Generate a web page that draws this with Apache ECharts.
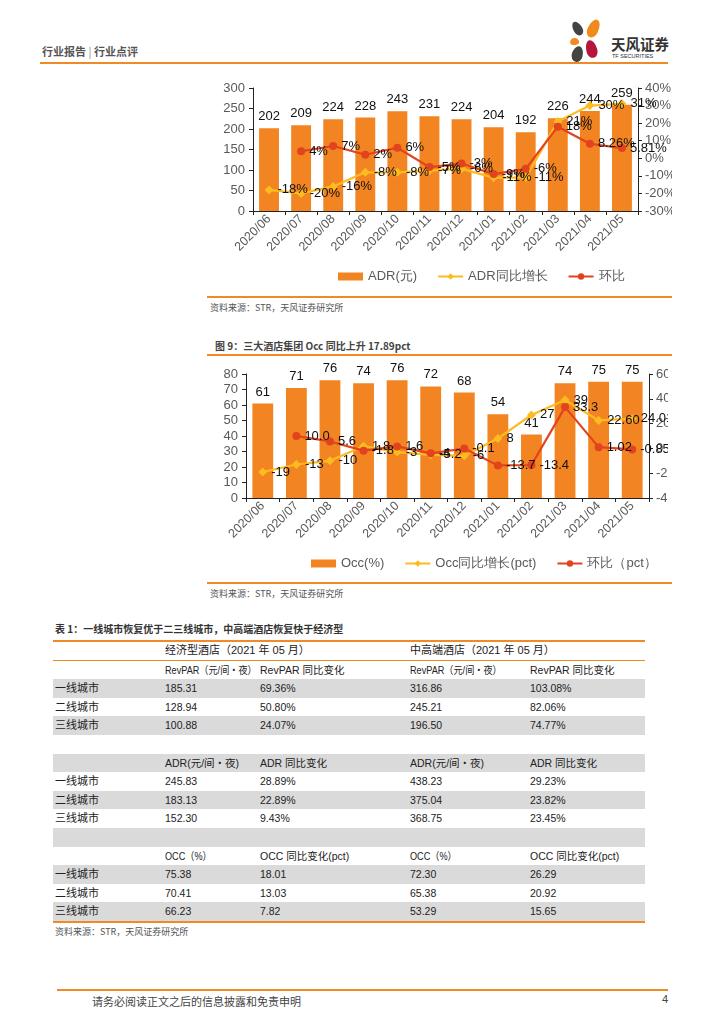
<!DOCTYPE html>
<html><head><meta charset="utf-8">
<script src="https://cdn.jsdelivr.net/npm/echarts@6/dist/echarts.min.js"></script>
<style>
body{margin:0;width:724px;height:1024px;background:#fff;position:relative;overflow:hidden;font-family:"Noto Sans CJK SC","Liberation Sans",sans-serif;color:#333}
.abs{position:absolute}
.clip{position:absolute;overflow:hidden}
.hl{position:absolute;height:1.5px;background:#F08A24}
.src{position:absolute;font-size:9px;color:#555;white-space:nowrap}
.petal{position:absolute;border-radius:50% 50% 50% 50%/60% 60% 40% 40%}
table{border-collapse:collapse;table-layout:fixed;font-family:"Liberation Sans","Noto Sans CJK SC",sans-serif;font-size:11px;color:#222}
td{height:18.6px;padding:0 0 0 2px;white-space:nowrap;overflow:visible;line-height:18.6px}
tr.g td{background:#DADADA}
.narrow{display:inline-block;transform:scaleX(0.87);transform-origin:left center}
</style></head>
<body>
<!-- header -->
<div class="abs" style="left:42px;top:43px;font-size:11px;font-weight:bold;color:#555">行业报告 <span style="font-weight:normal;color:#888">|</span> 行业点评</div>
<div class="hl" style="left:40px;top:62px;width:628px"></div>
<div class="petal" style="left:573px;top:21px;width:9px;height:15px;background:#444;transform:rotate(-30deg)"></div>
<div class="petal" style="left:588px;top:19px;width:11px;height:19px;background:#F08A1C;transform:rotate(25deg)"></div>
<div class="petal" style="left:570px;top:38px;width:9px;height:7px;background:#F08A1C;transform:rotate(-10deg)"></div>
<div class="petal" style="left:586px;top:40px;width:11px;height:18px;background:#B5173C;transform:rotate(-15deg)"></div>
<div class="petal" style="left:572px;top:46px;width:11px;height:16px;background:#444;transform:rotate(15deg)"></div>
<div class="abs" style="left:611px;top:33px;font-size:14.5px;font-weight:bold;color:#333">天风证券</div>
<div class="abs" style="left:612px;top:53px;font-size:5.5px;color:#333;font-family:'Liberation Sans'">TF SECURITIES</div>

<!-- chart 1 -->
<div class="clip" style="left:200px;top:75px;width:472px;height:215px">
  <div id="c1" class="abs" style="left:0;top:0;width:540px;height:215px"></div>
</div>
<div class="hl" style="left:207px;top:296px;width:465px"></div>
<div class="src" style="left:210px;top:301px">资料来源：STR，天风证券研究所</div>

<!-- chart 2 -->
<div class="abs" style="left:215px;top:338px;font-size:10px;font-weight:bold;color:#444">图 9：三大酒店集团 Occ 同比上升 17.89pct</div>
<div class="hl" style="left:207px;top:354px;width:465px"></div>
<div class="clip" style="left:200px;top:360px;width:468px;height:215px">
  <div id="c2" class="abs" style="left:0;top:0;width:540px;height:215px"></div>
</div>
<div class="hl" style="left:207px;top:582px;width:465px"></div>
<div class="src" style="left:210px;top:587px">资料来源：STR，天风证券研究所</div>

<!-- table -->
<div class="abs" style="left:55px;top:621px;font-size:10px;font-weight:bold;color:#333">表 1：一线城市恢复优于二三线城市，中高端酒店恢复快于经济型</div>
<div class="hl" style="left:53px;top:640px;width:592px"></div>
<div id="tbl" class="abs" style="left:53px;top:641px;width:592px"></div>
<div class="src" style="left:55px;top:925px">资料来源：STR，天风证券研究所</div>

<!-- footer -->
<div class="hl" style="left:57px;top:989px;width:611px"></div>
<div class="abs" style="left:92px;top:993px;font-size:11px;color:#444">请务必阅读正文之后的信息披露和免责申明</div>
<div class="abs" style="left:662px;top:993px;font-size:11px;color:#444;font-family:'Liberation Sans'">4</div>

<script>
// ---------- data ----------
var months = ['2020/06','2020/07','2020/08','2020/09','2020/10','2020/11','2020/12','2021/01','2021/02','2021/03','2021/04','2021/05'];
var adr = [202,209,224,228,243,231,224,204,192,226,244,259];
var adrYoY = [-18,-20,-16,-8,-8,-7,-6,-11,-11,21,30,31];
var adrMoM = [null,4,7,2,6,-5,-3,-9,-6,18,8.26,5.81];

var occ = [61,71,76,74,76,72,68,54,41,74,75,75];
var occYoY = [-19,-13,-10,1.8,-3,-5.2,-6,8,27,39,22.60,24.01];
var occYoYText = ['-19','-13','-10','1.8','-3','-5.2','-6','8','27','39','22.60','24.01'];
var occMoM = [null,10.0,5.6,-1.8,1.6,-4,-0.1,-13.7,-13.4,33.3,1.02,-0.85];
var occMoMText = ['','10.0','5.6','-1.8','1.6','-4','-0.1','-13.7','-13.4','33.3','1.02','-0.85'];

var cities = ['一线城市','二线城市','三线城市'];
var groupHead = ['经济型酒店（2021 年 05 月）','中高端酒店（2021 年 05 月）'];
var revparHead = ['RevPAR（元/间・夜）','RevPAR 同比变化','RevPAR（元/间・夜）','RevPAR 同比变化'];
var revparEco = ['185.31','128.94','100.88'];
var revparEcoYoY = ['69.36%','50.80%','24.07%'];
var revparMid = ['316.86','245.21','196.50'];
var revparMidYoY = ['103.08%','82.06%','74.77%'];
var adrHead = ['ADR(元/间・夜)','ADR 同比变化','ADR(元/间・夜)','ADR 同比变化'];
var adrEco = ['245.83','183.13','152.30'];
var adrEcoYoY = ['28.89%','22.89%','9.43%'];
var adrMid = ['438.23','375.04','368.75'];
var adrMidYoY = ['29.23%','23.82%','23.45%'];
var occHead = ['OCC（%）','OCC 同比变化(pct)','OCC（%）','OCC 同比变化(pct)'];
var occEco = ['75.38','70.41','66.23'];
var occEcoYoY = ['18.01','13.03','7.82'];
var occMid = ['72.30','65.38','53.29'];
var occMidYoY = ['26.29','20.92','15.65'];

// ---------- styles ----------
var ORANGE = '#F28522', YELLOW = '#FDBB20', RED = '#E2431F';
var FONT = 'Liberation Sans';
var CJK = '"Noto Sans CJK SC"';

function build(dom, cfg){
  var ch = echarts.init(dom, null, {renderer:'canvas'});
  var axisLineStyle = {color:'#222', width:1};
  var grid = cfg.grid; grid.outerBoundsMode = 'none'; grid.containLabel = false;
  ch.setOption({
    animation:false,
    textStyle:{fontFamily:FONT},
    grid:grid,
    legend:{
      left:cfg.legendLeft, top:cfg.legendTop, itemGap:20, itemWidth:25, itemHeight:8,
      textStyle:{fontSize:13, color:'#595959', fontFamily:FONT},
      data:[{name:cfg.names[0], icon:'rect'}, {name:cfg.names[1]}, {name:cfg.names[2]}]
    },
    xAxis:{
      type:'category', data:months,
      axisLine:{lineStyle:axisLineStyle},
      axisTick:{show:true, length:4, lineStyle:axisLineStyle},
      axisLabel:{rotate:45, fontSize:12.5, color:'#595959', interval:0, margin:6, fontFamily:FONT}
    },
    yAxis:[
      {type:'value', min:cfg.lmin, max:cfg.lmax, interval:cfg.lint, splitLine:{show:false},
       axisLine:{show:true, lineStyle:axisLineStyle}, axisTick:{show:true, length:4, lineStyle:axisLineStyle},
       axisLabel:{fontSize:13, color:'#595959', margin:8}},
      {type:'value', min:cfg.rmin, max:cfg.rmax, interval:cfg.rint, position:'right', splitLine:{show:false},
       axisLine:{show:true, lineStyle:axisLineStyle}, axisTick:{show:true, length:4, lineStyle:axisLineStyle},
       axisLabel:{fontSize:13, color:'#595959', margin:7, formatter:cfg.rfmt}}
    ],
    series:[
      {name:cfg.names[0], type:'bar', data:cfg.bar, barWidth:'62%', itemStyle:{color:ORANGE},
       label:{show:true, position:'top', distance:5, fontSize:13, color:'#111', fontFamily:FONT}},
      {name:cfg.names[1], type:'line', yAxisIndex:1, data:cfg.yoy, symbol:'diamond', symbolSize:9,
       lineStyle:{color:YELLOW, width:2.2}, itemStyle:{color:YELLOW},
       label:{show:true, position:'right', distance:4, fontSize:13, color:'#111', fontFamily:FONT,
              formatter:cfg.yoyFmt}},
      {name:cfg.names[2], type:'line', yAxisIndex:1, data:cfg.mom, symbol:'circle', symbolSize:8,
       lineStyle:{color:RED, width:2.2}, itemStyle:{color:RED},
       label:{show:true, position:'right', distance:4, fontSize:13, color:'#111', fontFamily:FONT,
              formatter:cfg.momFmt}}
    ]
  });
}

// chart 1: plot spans x 253..638 (page), top 88, bottom 211
build(document.getElementById('c1'), {
  grid:{left:53, right:540-438, top:13, bottom:79},
  legendLeft:133, legendTop:190,
  names:['ADR(元)','ADR同比增长','环比'],
  lmin:0, lmax:300, lint:50, rmin:-30, rmax:40, rint:10, rfmt:'{value}%',
  bar:adr, yoy:adrYoY, mom:adrMoM,
  yoyFmt:function(p){return p.value+'%';},
  momFmt:function(p){return p.value+'%';}
});

// chart 2: plot spans x 246..649 (page), top 374, bottom 498
build(document.getElementById('c2'), {
  grid:{left:46, right:540-449, top:14, bottom:77},
  legendLeft:106, legendTop:192,
  names:['Occ(%)','Occ同比增长(pct)','环比（pct）'],
  lmin:0, lmax:80, lint:10, rmin:-40, rmax:60, rint:20, rfmt:'{value}',
  bar:occ, yoy:occYoY, mom:occMoM,
  yoyFmt:function(p){return occYoYText[p.dataIndex];},
  momFmt:function(p){return occMoMText[p.dataIndex];}
});

// ---------- table ----------
(function(){
  var widths = [110,95,150,120,117];
  var h = '<table style="width:592px"><colgroup>';
  widths.forEach(function(w){ h += '<col style="width:'+w+'px">'; });
  h += '</colgroup>';
  h += '<tr style="border-bottom:1.5px solid #F08A24"><td style="font-family:'+CJK+';font-size:12px"></td><td colspan="2" style="font-family:'+CJK+';font-size:12px">'+groupHead[0]+'</td><td colspan="2" style="font-family:'+CJK+';font-size:12px">'+groupHead[1]+'</td></tr>';
  var rowIdx = 0;
  function row(cells, isHead){
    var cls = (rowIdx % 2 === 1) ? ' class="g"' : '';
    rowIdx++;
    h += '<tr'+cls+'>';
    cells.forEach(function(c,i){
      var st = i===0 ? ' style="font-family:'+CJK+';color:#333"' : '';
      var inner = '<span style="font-size:'+(i===0?11:10.5)+'px">'+c+'</span>';
      if (isHead && c.indexOf('（')>=0) inner = '<span class="narrow" style="font-size:10.5px">'+c+'</span>';
      h += '<td'+st+'>'+inner+'</td>';
    });
    h += '</tr>';
  }
  function section(head, a, b, c, d, blank){
    row([''].concat(head), true);
    for (var i=0;i<3;i++) row([cities[i], a[i], b[i], c[i], d[i]]);
    if (blank) row(['','','','','']);
  }
  section(revparHead, revparEco, revparEcoYoY, revparMid, revparMidYoY, true);
  section(adrHead, adrEco, adrEcoYoY, adrMid, adrMidYoY, true);
  section(occHead, occEco, occEcoYoY, occMid, occMidYoY, false);
  h += '</table>';
  document.getElementById('tbl').innerHTML = h;
  var last = document.createElement('div');
  last.className = 'hl';
  document.getElementById('tbl').appendChild(last);
  last.style.left = '0px'; last.style.width = '592px';
  last.style.top = document.querySelector('#tbl table').offsetHeight + 'px';
})();
</script>
</body></html>
